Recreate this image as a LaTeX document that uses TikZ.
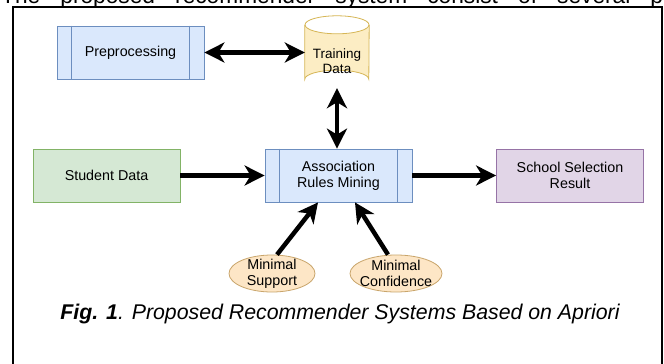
\documentclass[tikz,border=0pt]{standalone}
\usepackage{fontspec}
\setmainfont{Liberation Sans}
\usetikzlibrary{arrows.meta,shapes.geometric,calc}
\definecolor{bfill}{HTML}{DAE8FC}\definecolor{bline}{HTML}{6C8EBF}
\definecolor{gfill}{HTML}{D5E8D4}\definecolor{gline}{HTML}{82B366}
\definecolor{pfill}{HTML}{E1D5E7}\definecolor{pline}{HTML}{9673A6}
\definecolor{yfill}{HTML}{FCEDC4}\definecolor{yline}{HTML}{D6B656}
\definecolor{ofill}{HTML}{FDE6C6}\definecolor{oline}{HTML}{C9A56B}
\tikzset{
  boxbase/.style={rectangle, minimum width=147pt, minimum height=53pt, inner sep=0pt, align=center,
    font=\fontsize{14.3}{16}\selectfont, line width=0.8pt},
  procbox/.style={boxbase, fill=bfill, draw=bline},
  greenbox/.style={boxbase, fill=gfill, draw=gline},
  purplebox/.style={boxbase, fill=pfill, draw=pline},
  ellbox/.style={ellipse, fill=ofill, draw=oline, line width=0.8pt, inner sep=0pt,
    minimum height=37pt},
  elltext/.style={align=center, inner sep=0pt, font=\fontsize{14.3}{16}\selectfont},
  tip/.tip={Stealth[length=20pt,width=20pt,inset=6pt]},
  arr/.style={line width=4.5pt, -tip},
  darr/.style={line width=4.5pt, tip-tip},
}
\begin{document}
\begin{tikzpicture}[x=1pt,y=-1pt]
\useasboundingbox (0,0) rectangle (664,364);
\clip (0,0) rectangle (664,364);
\fill[white] (0,0) rectangle (664,364);
% cut-off text line at the top
\node[anchor=base west, inner sep=0pt] (toptext) at (1,4)
  {\fontsize{22.7}{26}\selectfont\hbox to 662pt{The\hfill proposed\hfill recommender\hfill system\hfill consist\hfill of\hfill several\hfill p}};
% frame
\draw[line width=2pt] (12.7,7) rectangle (661.7,370);
% nodes
\node[procbox] (pre) at (130.5,52.5) {Preprocessing};
\draw[bline, line width=0.8pt] ($(pre.north west)+(15,0)$) -- ($(pre.south west)+(15,0)$);
\draw[bline, line width=0.8pt] ($(pre.north east)+(-15,0)$) -- ($(pre.south east)+(-15,0)$);
\node[rectangle, minimum width=64pt, minimum height=72pt, inner sep=0pt] (td) at (337,52) {};
\fill[yfill] ($(td.north west)+(0,9)$) -- ($(td.south west)+(0,-9)$)
   arc[start angle=180, end angle=360, x radius=32pt, y radius=-9pt]
   -- ($(td.north east)+(0,9)$) arc[start angle=0, end angle=180, x radius=32pt, y radius=-9pt] -- cycle;
\draw[yline, line width=0.8pt] ($(td.north west)+(0,9)$) -- ($(td.south west)+(0,-9)$)
   arc[start angle=180, end angle=360, x radius=32pt, y radius=-9pt]
   -- ($(td.north east)+(0,9)$);
\draw[yline, line width=0.8pt] ($(td.north)+(0,9)$) ellipse[x radius=32pt, y radius=9pt];
\node[elltext, font=\fontsize{13.5}{15.5}\selectfont] (tdlabel) at (337,61) {Training\\Data};
\node[greenbox] (stu) at (106.5,175.5) {Student Data};
\node[procbox] (arm) at (338.5,175.5) {Association\\Rules Mining};
\draw[bline, line width=0.8pt] ($(arm.north west)+(15,0)$) -- ($(arm.south west)+(15,0)$);
\draw[bline, line width=0.8pt] ($(arm.north east)+(-15,0)$) -- ($(arm.south east)+(-15,0)$);
\node[purplebox] (res) at (570,175.5) {School Selection\\Result};
\node[ellbox, minimum width=86pt] (sup) at (272,273.5) {};
\node[elltext] (suplabel) at (sup) {Minimal\\Support};
\node[ellbox, minimum width=92pt] (conf) at (396,273.5) {};
\node[elltext] (conflabel) at (conf) {Minimal\\Confidence};
% caption
\node[anchor=base, inner sep=0pt, font=\fontsize{21.3}{24}\selectfont\itshape] (cap) at (340,319) {\textbf{Fig. 1}. Proposed Recommender Systems Based on Apriori};
% connectors
\draw[darr] (pre.east) -- (pre.east -| td.west);
\draw[darr] (td.south) -- (td.south |- arm.north);
\draw[arr] (stu.east) -- (arm.west);
\draw[arr] (arm.east) -- (arm.east -| res.west);
\draw[arr] ([xshift=5pt]sup.north) -- ([xshift=-20.5pt]arm.south);
\draw[arr] ([xshift=-8pt]conf.north) -- ([xshift=16.5pt]arm.south);
\end{tikzpicture}
\end{document}
